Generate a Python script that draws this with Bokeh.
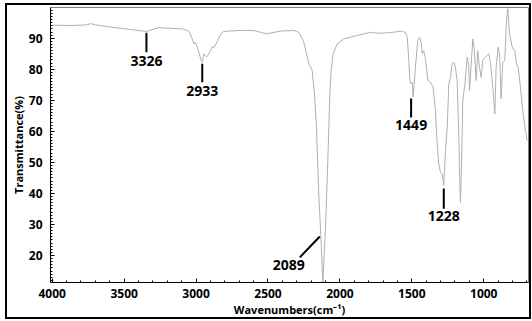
from bokeh.plotting import figure
from bokeh.models import Range1d, FixedTicker, ColumnDataSource
from bokeh.core.properties import value
from bokeh.embed import file_html
from bokeh.resources import INLINE

# IR spectrum: wavenumber (cm-1) and transmittance (%)
wavenumber = [4000, 3873, 3762, 3734, 3699, 3595, 3456, 3345, 3317, 3261, 3178, 3094,
              3050, 3027, 3016, 3004, 2988, 2964, 2957, 2946, 2927, 2905, 2888, 2877,
              2858, 2842, 2825, 2807, 2691, 2599, 2510, 2413, 2321, 2286, 2255, 2232,
              2216, 2193, 2177, 2163, 2147, 2130, 2119, 2100, 2084, 2070, 2061, 2047,
              2019, 1973, 1880, 1787, 1741, 1648, 1579, 1544, 1532, 1521, 1514, 1505,
              1498, 1491, 1475, 1459, 1447, 1435, 1428, 1417, 1405, 1389, 1370, 1352,
              1336, 1324, 1313, 1301, 1289, 1278, 1266, 1254, 1243, 1231, 1220, 1208,
              1197, 1185, 1174, 1167, 1162, 1155, 1146, 1132, 1115, 1104, 1099, 1090,
              1076, 1065, 1053, 1042, 1030, 1018, 1007, 988, 965, 953, 937, 923,
              914, 900, 889, 879, 868, 854, 842, 833, 821, 802, 784, 773, 761, 745,
              729, 710, 698]
transmittance = [94.2, 94.1, 94.3, 94.7, 94.3, 93.6, 92.8, 92.2, 92.6, 93.4, 93.2, 93.0,
                 92.3, 89.8, 88.2, 88.7, 86.6, 82.8, 82.3, 85.0, 83.9, 85.5, 87.3, 86.9,
                 88.4, 90.1, 91.6, 92.2, 92.5, 92.5, 91.4, 92.3, 92.5, 91.9, 89.3, 85.0,
                 81.8, 79.6, 72.1, 61.3, 39.9, 23.8, 11.4, 29.1, 50.6, 72.1, 79.6, 85.0,
                 88.2, 89.8, 90.9, 91.9, 91.6, 91.8, 92.3, 91.9, 90.3, 82.8, 76.4, 75.3,
                 75.8, 71.0, 80.7, 89.3, 90.3, 88.7, 85.0, 86.0, 83.4, 76.4, 75.8, 74.2,
                 66.7, 56.0, 49.5, 46.8, 46.3, 42.5, 53.8, 61.3, 75.3, 77.4, 81.8, 82.3,
                 80.7, 76.4, 59.3, 44.2, 37.1, 47.4, 69.9, 74.8, 83.9, 81.2, 73.1, 79.6,
                 89.8, 86.0, 76.4, 86.0, 80.7, 77.4, 82.8, 83.9, 85.0, 81.8, 74.2, 65.6,
                 80.7, 87.1, 83.9, 70.5, 82.3, 82.8, 95.7, 99.5, 91.4, 87.1, 86.0, 81.8,
                 80.7, 74.2, 66.7, 60.3, 57.0]

x_ticks = [4000, 3500, 3000, 2500, 2000, 1500, 1000]
y_ticks = [20, 30, 40, 50, 60, 70, 80, 90]

# vertical peak markers: label, x position, line top, line bottom, label y
peak_labels = ["3326", "2933", "1449", "1228"]
peak_x = [3345, 2957, 1505, 1278]
peak_line_top = [91.8, 81.8, 70.6, 41.6]
peak_line_bottom = [85.5, 75.8, 64.5, 35.1]
peak_label_y = [82.6, 73.1, 61.9, 32.6]

# diagonal marker for the strong band
band_label = "2089"
band_line_x = [2140, 2279]
band_line_y = [26.1, 19.4]
band_label_x = 2355
band_label_y = 17.0

FONT = "Open Sans"

p = figure(width=532, height=321, output_backend="svg", toolbar_location=None,
           x_range=Range1d(4012, 689), y_range=Range1d(11.3, 99.9),
           min_border_left=50, min_border_right=4, min_border_top=7, min_border_bottom=39)

# outer picture border via the host element's background (canvas margin is transparent)
g = "linear-gradient(#000,#000)"
p.styles = {
    "background": (f"{g} 5px 3px / 2px 316px no-repeat, "
                   f"{g} 529px 3px / 2px 316px no-repeat, "
                   f"{g} 5px 3px / 526px 2px no-repeat, "
                   f"{g} 5px 317px / 526px 2px no-repeat, #ffffff"),
}

p.grid.visible = False
p.outline_line_color = "#808080"
p.outline_line_width = 1
p.background_fill_color = "white"
p.border_fill_alpha = 0

p.line(wavenumber, transmittance, line_color="#b0b0b0", line_width=1)

src = ColumnDataSource(dict(x=peak_x, top=peak_line_top, bottom=peak_line_bottom,
                            ly=peak_label_y, text=peak_labels))
p.segment(x0="x", y0="top", x1="x", y1="bottom", source=src,
          line_color="black", line_width=2)
p.text(x="x", y="ly", text="text", source=src, text_font=value(FONT),
       text_font_style="bold", text_font_size="14px", text_align="center",
       text_baseline="middle", text_color="black")
p.segment(x0=[band_line_x[0]], y0=[band_line_y[0]], x1=[band_line_x[1]], y1=[band_line_y[1]],
          line_color="black", line_width=2)
p.text(x=[band_label_x], y=[band_label_y], text=[band_label], text_font=value(FONT),
       text_font_style="bold", text_font_size="14px", text_align="center",
       text_baseline="middle", text_color="black")

xa = p.xaxis[0]
xa.ticker = FixedTicker(ticks=x_ticks, minor_ticks=list(range(4000, 600, -100)))
xa.axis_label = "Wavenumbers(cm⁻¹)"
ya = p.yaxis[0]
ya.ticker = FixedTicker(ticks=y_ticks, minor_ticks=list(range(12, 100, 1)))
ya.axis_label = "Transmittance(%)"
for ax in (xa, ya):
    ax.axis_line_color = "black"
    ax.major_tick_in = 4
    ax.major_tick_out = 0
    ax.minor_tick_in = 2
    ax.minor_tick_out = 0
    ax.major_tick_line_color = "black"
    ax.minor_tick_line_color = "black"
    ax.major_label_text_font = FONT
    ax.major_label_text_font_style = "bold"
    ax.major_label_text_font_size = "12px"
    ax.major_label_text_color = "black"
    ax.axis_label_text_font = FONT
    ax.axis_label_text_font_style = "bold"
    ax.axis_label_text_font_size = "11px"
    ax.axis_label_text_color = "black"
xa.major_label_standoff = 6
xa.axis_label_standoff = 1
ya.major_label_standoff = 8
ya.axis_label_standoff = 0

open("out.html", "w").write(file_html(p, INLINE))
